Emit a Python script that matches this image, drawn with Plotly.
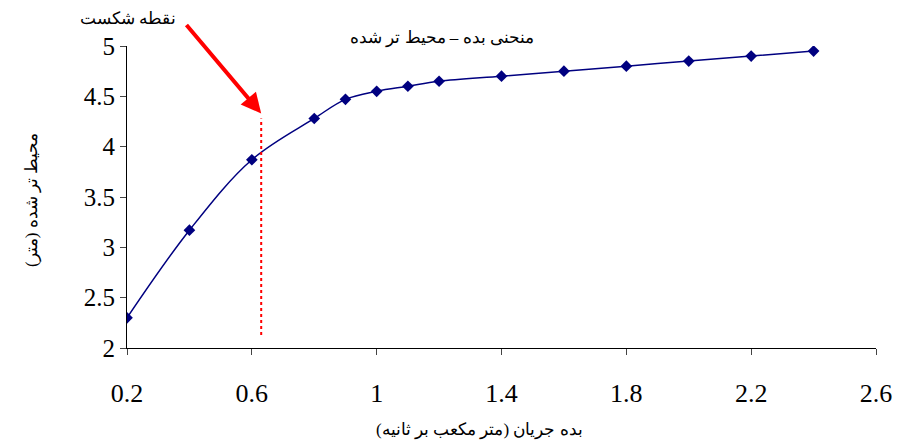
import plotly.graph_objects as go

flow = [0.2, 0.4, 0.6, 0.8, 0.9, 1.0, 1.1, 1.2, 1.4, 1.6, 1.8, 2.0, 2.2, 2.4]
perimeter = [2.3, 3.17, 3.87, 4.28, 4.47, 4.55, 4.6, 4.65, 4.7, 4.75, 4.8, 4.85, 4.9, 4.95]
break_x = 0.63
break_y = [2.13, 4.28]
x_ticks = [0.2, 0.6, 1, 1.4, 1.8, 2.2, 2.6]
y_ticks = [2, 2.5, 3, 3.5, 4, 4.5, 5]

fig = go.Figure()
fig.add_trace(go.Scatter(x=flow, y=perimeter, mode="lines+markers",
                         line=dict(color="#000080", width=1.5, shape="spline"),
                         marker=dict(symbol="diamond", size=9, color="#000080")))
fig.add_trace(go.Scatter(x=[break_x, break_x], y=break_y, mode="lines",
                         line=dict(color="red", width=2, dash="dot")))
fig.add_annotation(x=break_x, y=4.33, xref="x", yref="y", ax=-76, ay=-90,
                   showarrow=True, arrowhead=2, arrowsize=1, arrowwidth=4, arrowcolor="red", text="")
fig.update_layout(
    width=902, height=443, plot_bgcolor="white", paper_bgcolor="white",
    showlegend=False, margin=dict(l=119, r=34, t=38, b=103, autoexpand=False),
    font=dict(family="Liberation Serif, DejaVu Serif", color="black"),
    annotations=list(fig.layout.annotations) + [
        dict(text="منحنی بده – محیط تر شده", x=0.42, y=1.065, xref="paper", yref="paper",
             showarrow=False, font=dict(size=17)),
        dict(text="نقطه شکست", x=-0.065, y=1.13, xref="paper", yref="paper",
             showarrow=False, font=dict(size=17)),
        dict(text="بده جریان (متر مکعب بر ثانیه)", x=0.33, y=-0.31, xref="paper", yref="paper",
             showarrow=False, font=dict(size=17)),
        dict(text="محیط تر شده (متر)", x=-0.143, y=0.49, xref="paper", yref="paper",
             showarrow=False, textangle=-90, font=dict(size=17)),
    ],
)
fig.update_xaxes(range=[0.2, 2.6], tickvals=x_ticks, ticktext=["0.2", "0.6", "1", "1.4", "1.8", "2.2", "2.6"],
                 showline=True, linecolor="black", linewidth=1, ticks="outside", ticklen=6,
                 showgrid=False, zeroline=False, tickfont=dict(size=26), ticklabelstandoff=16)
fig.update_yaxes(range=[2, 5], tickvals=y_ticks, ticktext=["2", "2.5", "3", "3.5", "4", "4.5", "5"],
                 showline=True, linecolor="black", linewidth=1, ticks="outside", ticklen=6,
                 showgrid=False, zeroline=False, tickfont=dict(size=25))
fig.write_html("out.html")
